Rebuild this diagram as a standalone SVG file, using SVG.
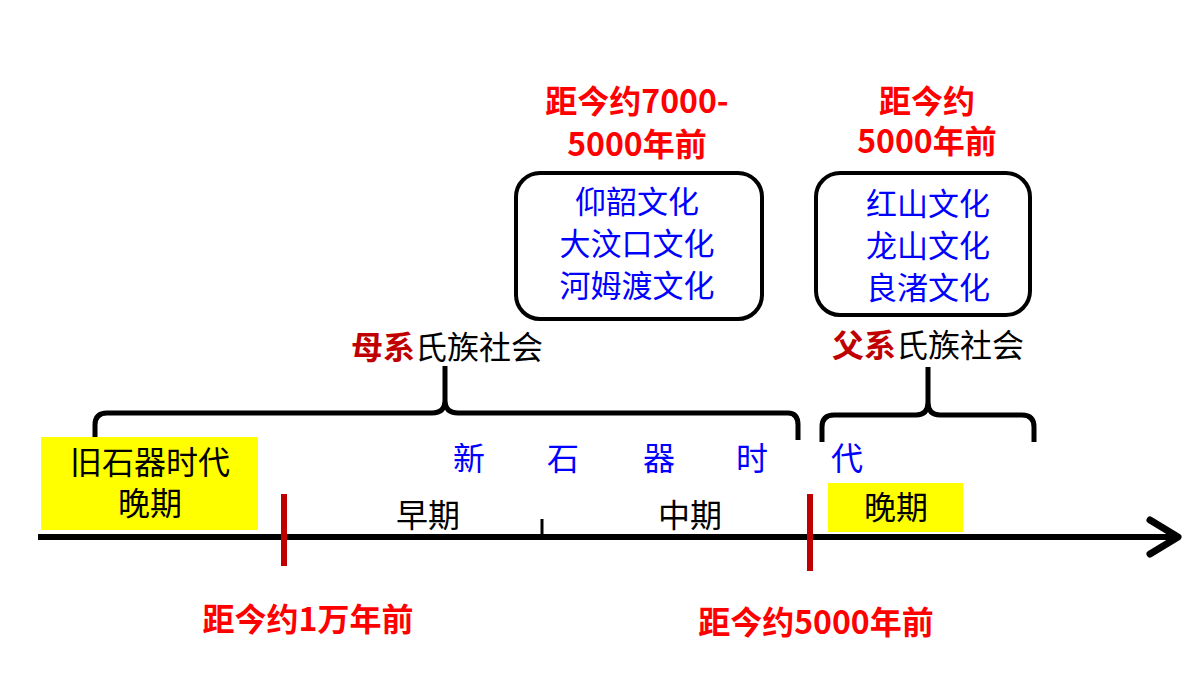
<svg xmlns="http://www.w3.org/2000/svg" width="1200" height="675" viewBox="0 0 1200 675">
<style>
text{font-family:"Noto Sans CJK SC","Liberation Sans",sans-serif;text-anchor:middle}
.red{fill:#ff0000;font-weight:bold;font-size:32px}
.blue{fill:#0000ff;font-size:32px}
.bx{fill:#0000ff;font-size:31px}
.blk{fill:#000;font-size:32px}
.br{fill:none;stroke:#000;stroke-width:5}
.box{fill:#fff;stroke:#000;stroke-width:4}
.tick{stroke:#c00000;stroke-width:6}
</style>
<rect width="1200" height="675" fill="#fff"/>
<g id="connectors">
<line x1="38" y1="537" x2="1178" y2="537" stroke="#000" stroke-width="6"/>
<polyline points="1150,520 1178,537 1150,554" fill="none" stroke="#000" stroke-width="7" stroke-linecap="round" stroke-linejoin="round"/>
<line x1="542" y1="519" x2="542" y2="537" stroke="#000" stroke-width="3"/>
<path class="br" d="M95,437 V425 Q95,413 107,413 H432 Q445,413 445,400 V366 V400 Q445,413 458,413 H788 Q798,413 798,425 V440"/>
<path class="br" d="M822,442 V427 Q822,415 834,415 H916 Q928,415 928,402 V367 V402 Q928,415 940,415 H1022 Q1034,415 1034,427 V442"/>
<line class="tick" x1="284" y1="494" x2="284" y2="566"/>
<line class="tick" x1="810" y1="494" x2="810" y2="571"/>
</g>
<g id="old-stone"><rect x="41" y="437" width="217" height="93" fill="#ffff00"/>
<text class="blk" x="150" y="474" font-size="31">旧石器时代</text><text class="blk" x="150" y="515" font-size="31">晚期</text></g>
<g id="late"><rect x="828" y="483" width="135" height="49" fill="#ffff00"/>
<text class="blk" x="896" y="519">晚期</text></g>
<g id="early"><text class="blk" x="428" y="527" font-size="30">早期</text></g>
<g id="mid"><text class="blk" x="690" y="527" font-size="30">中期</text></g>
<g id="neolithic">
<text class="blue" x="469" y="470">新</text><text class="blue" x="563" y="470">石</text><text class="blue" x="659" y="470">器</text><text class="blue" x="752" y="470">时</text><text class="blue" x="847" y="470">代</text></g>
<g id="matri"><text x="447" y="359" class="blk" font-size="35"><tspan fill="#c00000" font-weight="bold">母系</tspan>氏族社会</text></g>
<g id="patri"><text x="928" y="357" class="blk" font-size="35"><tspan fill="#c00000" font-weight="bold">父系</tspan>氏族社会</text></g>
<g id="box1"><rect class="box" x="516" y="173" width="246" height="146" rx="24"/>
<text class="bx" x="637" y="213">仰韶文化</text><text class="bx" x="637" y="255">大汶口文化</text><text class="bx" x="637" y="297">河姆渡文化</text></g>
<g id="box2"><rect class="box" x="816" y="173" width="214" height="142" rx="24"/>
<text class="bx" x="928" y="215">红山文化</text><text class="bx" x="928" y="257">龙山文化</text><text class="bx" x="928" y="299">良渚文化</text></g>
<g id="t1"><text class="red" x="637" y="113">距今约7000-</text><text class="red" x="637" y="156">5000年前</text></g>
<g id="t2"><text class="red" x="927" y="113">距今约</text><text class="red" x="927" y="153">5000年前</text></g>
<g id="d1"><text class="red" x="308" y="631">距今约1万年前</text></g>
<g id="d2"><text class="red" x="816" y="634">距今约5000年前</text></g>
</svg>
